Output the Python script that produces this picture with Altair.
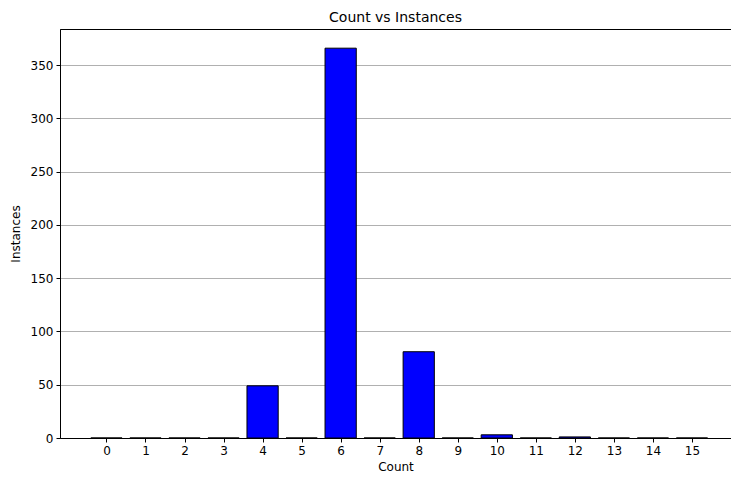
import altair as alt
import pandas as pd

counts = list(range(16))
instances = [0, 0, 0, 0, 49, 0, 366, 0, 81, 0, 3, 0, 1, 0, 0, 0]

df = pd.DataFrame({"count": counts, "instances": instances})
df["x0"] = df["count"] - 0.4
df["x1"] = df["count"] + 0.4

font = "DejaVu Sans"

chart = alt.Chart(df).mark_bar(color="#0000ff", stroke="black", strokeWidth=1).encode(
    x=alt.X("x0:Q", scale=alt.Scale(domain=[-1.19, 16], nice=False, zero=False),
            axis=alt.Axis(title="Count", values=counts, grid=False,
                          format="d", labelFlush=False)),
    x2="x1:Q",
    y=alt.Y("instances:Q", scale=alt.Scale(domain=[0, 384], nice=False),
            axis=alt.Axis(title="Instances", values=[0, 50, 100, 150, 200, 250, 300, 350],
                          grid=True)),
    y2=alt.datum(0),
).properties(
    width=671,
    height=409,
    title=alt.TitleParams("Count vs Instances", fontSize=14, font=font,
                          fontWeight="normal", color="black", offset=4),
    autosize=alt.AutoSizeParams(type="none"),
    padding={"left": 52, "top": 21, "right": 0, "bottom": 36},
).configure_view(
    stroke="black", strokeWidth=1
).configure_axis(
    labelFont=font, titleFont=font, labelFontSize=12, titleFontSize=12,
    titleFontWeight="normal", labelColor="black", titleColor="black",
    domainColor="black", tickColor="black", tickSize=4, labelPadding=3,
    gridColor="#b0b0b0", gridWidth=1,
).configure_axisY(titlePadding=8).configure_axisX(titlePadding=5)

chart.save("out.html", embed_options={"renderer": "svg", "actions": False})
